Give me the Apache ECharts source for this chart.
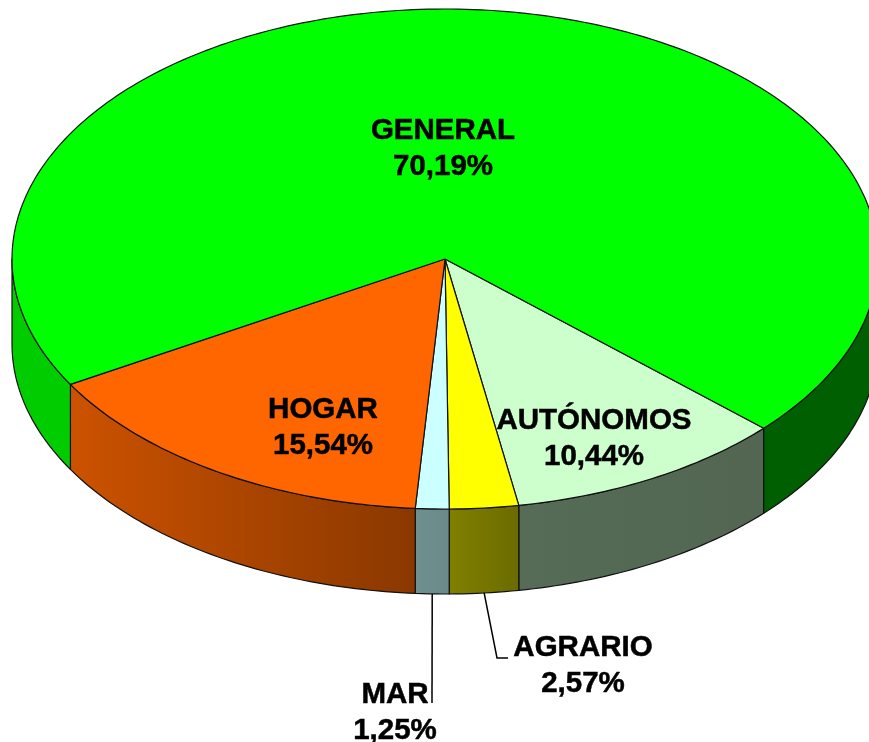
<!DOCTYPE html>
<html><head><meta charset="utf-8">
<style>html,body{margin:0;padding:0;background:#fff}#c{width:869px;height:742px}</style>
<script src="https://cdn.jsdelivr.net/npm/echarts@6/dist/echarts.min.js"></script>
</head><body><div id="c"></div>
<script>
const categories = ['AUTÓNOMOS','AGRARIO','MAR','HOGAR','GENERAL'];
const shares = [10.44, 2.57, 1.25, 15.54, 70.19];

const topColors = ['#CCFFCC','#FFFF00','#CCFFFF','#FF6600','#00FF00'];
const wallColors = [
  [['#566C56','#526652']],
  [['#808000','#6B6B00']],
  [['#708F8F','#6A8A8A']],
  [['#CC5200','#8A3800']],
  [['#00CC00','#00CC00'],['#005F00','#005F00']]
];
const disc = {cx:445, cy:259, rx:433, ry:250, depth:85, startDeg:42.6};
const labelAt = [[594,439],[583,666],[395,713],[323,428],[443,149]];
const leaders = [null,[[497,658],[508,658]],[[432,703]],null,null];

const total = shares.reduce((a,b)=>a+b,0);
const rad = d => d*Math.PI/180;
const rim = (deg,dy) => [disc.cx+disc.rx*Math.cos(rad(deg)), disc.cy+disc.ry*Math.sin(rad(deg))+(dy||0)];
function arc(a,b,dy){const n=Math.max(2,Math.ceil(Math.abs(b-a)));const p=[];for(let i=0;i<=n;i++)p.push(rim(a+(b-a)*i/n,dy));return p;}
const pct = v => v.toFixed(2).replace('.',',')+'%';

function renderItem(params, api){
  const i = api.value(0);
  let a = disc.startDeg;
  for(let k=0;k<i;k++) a += shares[k]/total*360;
  const b = a + shares[i]/total*360;
  const kids = [];
  const line = {stroke:'#111',lineWidth:1.2,lineJoin:'round'};
  const spans = [];
  [[0,180],[360,540]].forEach(([lo,hi])=>{
    const s=Math.max(a,lo), e=Math.min(b,hi);
    if(e>s) spans.push([s,e]);
  });
  spans.forEach((sp,j)=>{
    const c = wallColors[i][j];
    kids.push({type:'polygon',z2:1,shape:{points:arc(sp[0],sp[1],0).concat(arc(sp[1],sp[0],disc.depth))},
      style:Object.assign({fill:new echarts.graphic.LinearGradient(0,0,1,0,[{offset:0,color:c[0]},{offset:1,color:c[1]}])},line)});
  });
  kids.push({type:'polygon',z2:2,shape:{points:[[disc.cx,disc.cy]].concat(arc(a,b,0))},
    style:Object.assign({fill:topColors[i]},line)});
  if(leaders[i]){
    kids.push({type:'polyline',z2:3,shape:{points:[rim((a+b)/2,disc.depth)].concat(leaders[i])},
      style:{stroke:'#000',lineWidth:1.5,fill:null}});
  }
  kids.push({type:'text',z2:4,x:labelAt[i][0],y:labelAt[i][1],style:{
    text:categories[i]+'\n'+pct(shares[i]),fontFamily:'Liberation Sans',fontWeight:'bold',fontSize:29.5,lineHeight:35.5,
    fill:'#000',stroke:'#000',lineWidth:0.5,align:'center',verticalAlign:'middle'}});
  return {type:'group',children:kids};
}
const chart = echarts.init(document.getElementById('c'),null,{renderer:'canvas'});
chart.setOption({
  animation:false,
  backgroundColor:'#fff',
  series:[{type:'custom',coordinateSystem:'none',silent:true,clip:false,
    data:categories.map((c,i)=>[i]),encode:{},renderItem}]
});
</script></body></html>
